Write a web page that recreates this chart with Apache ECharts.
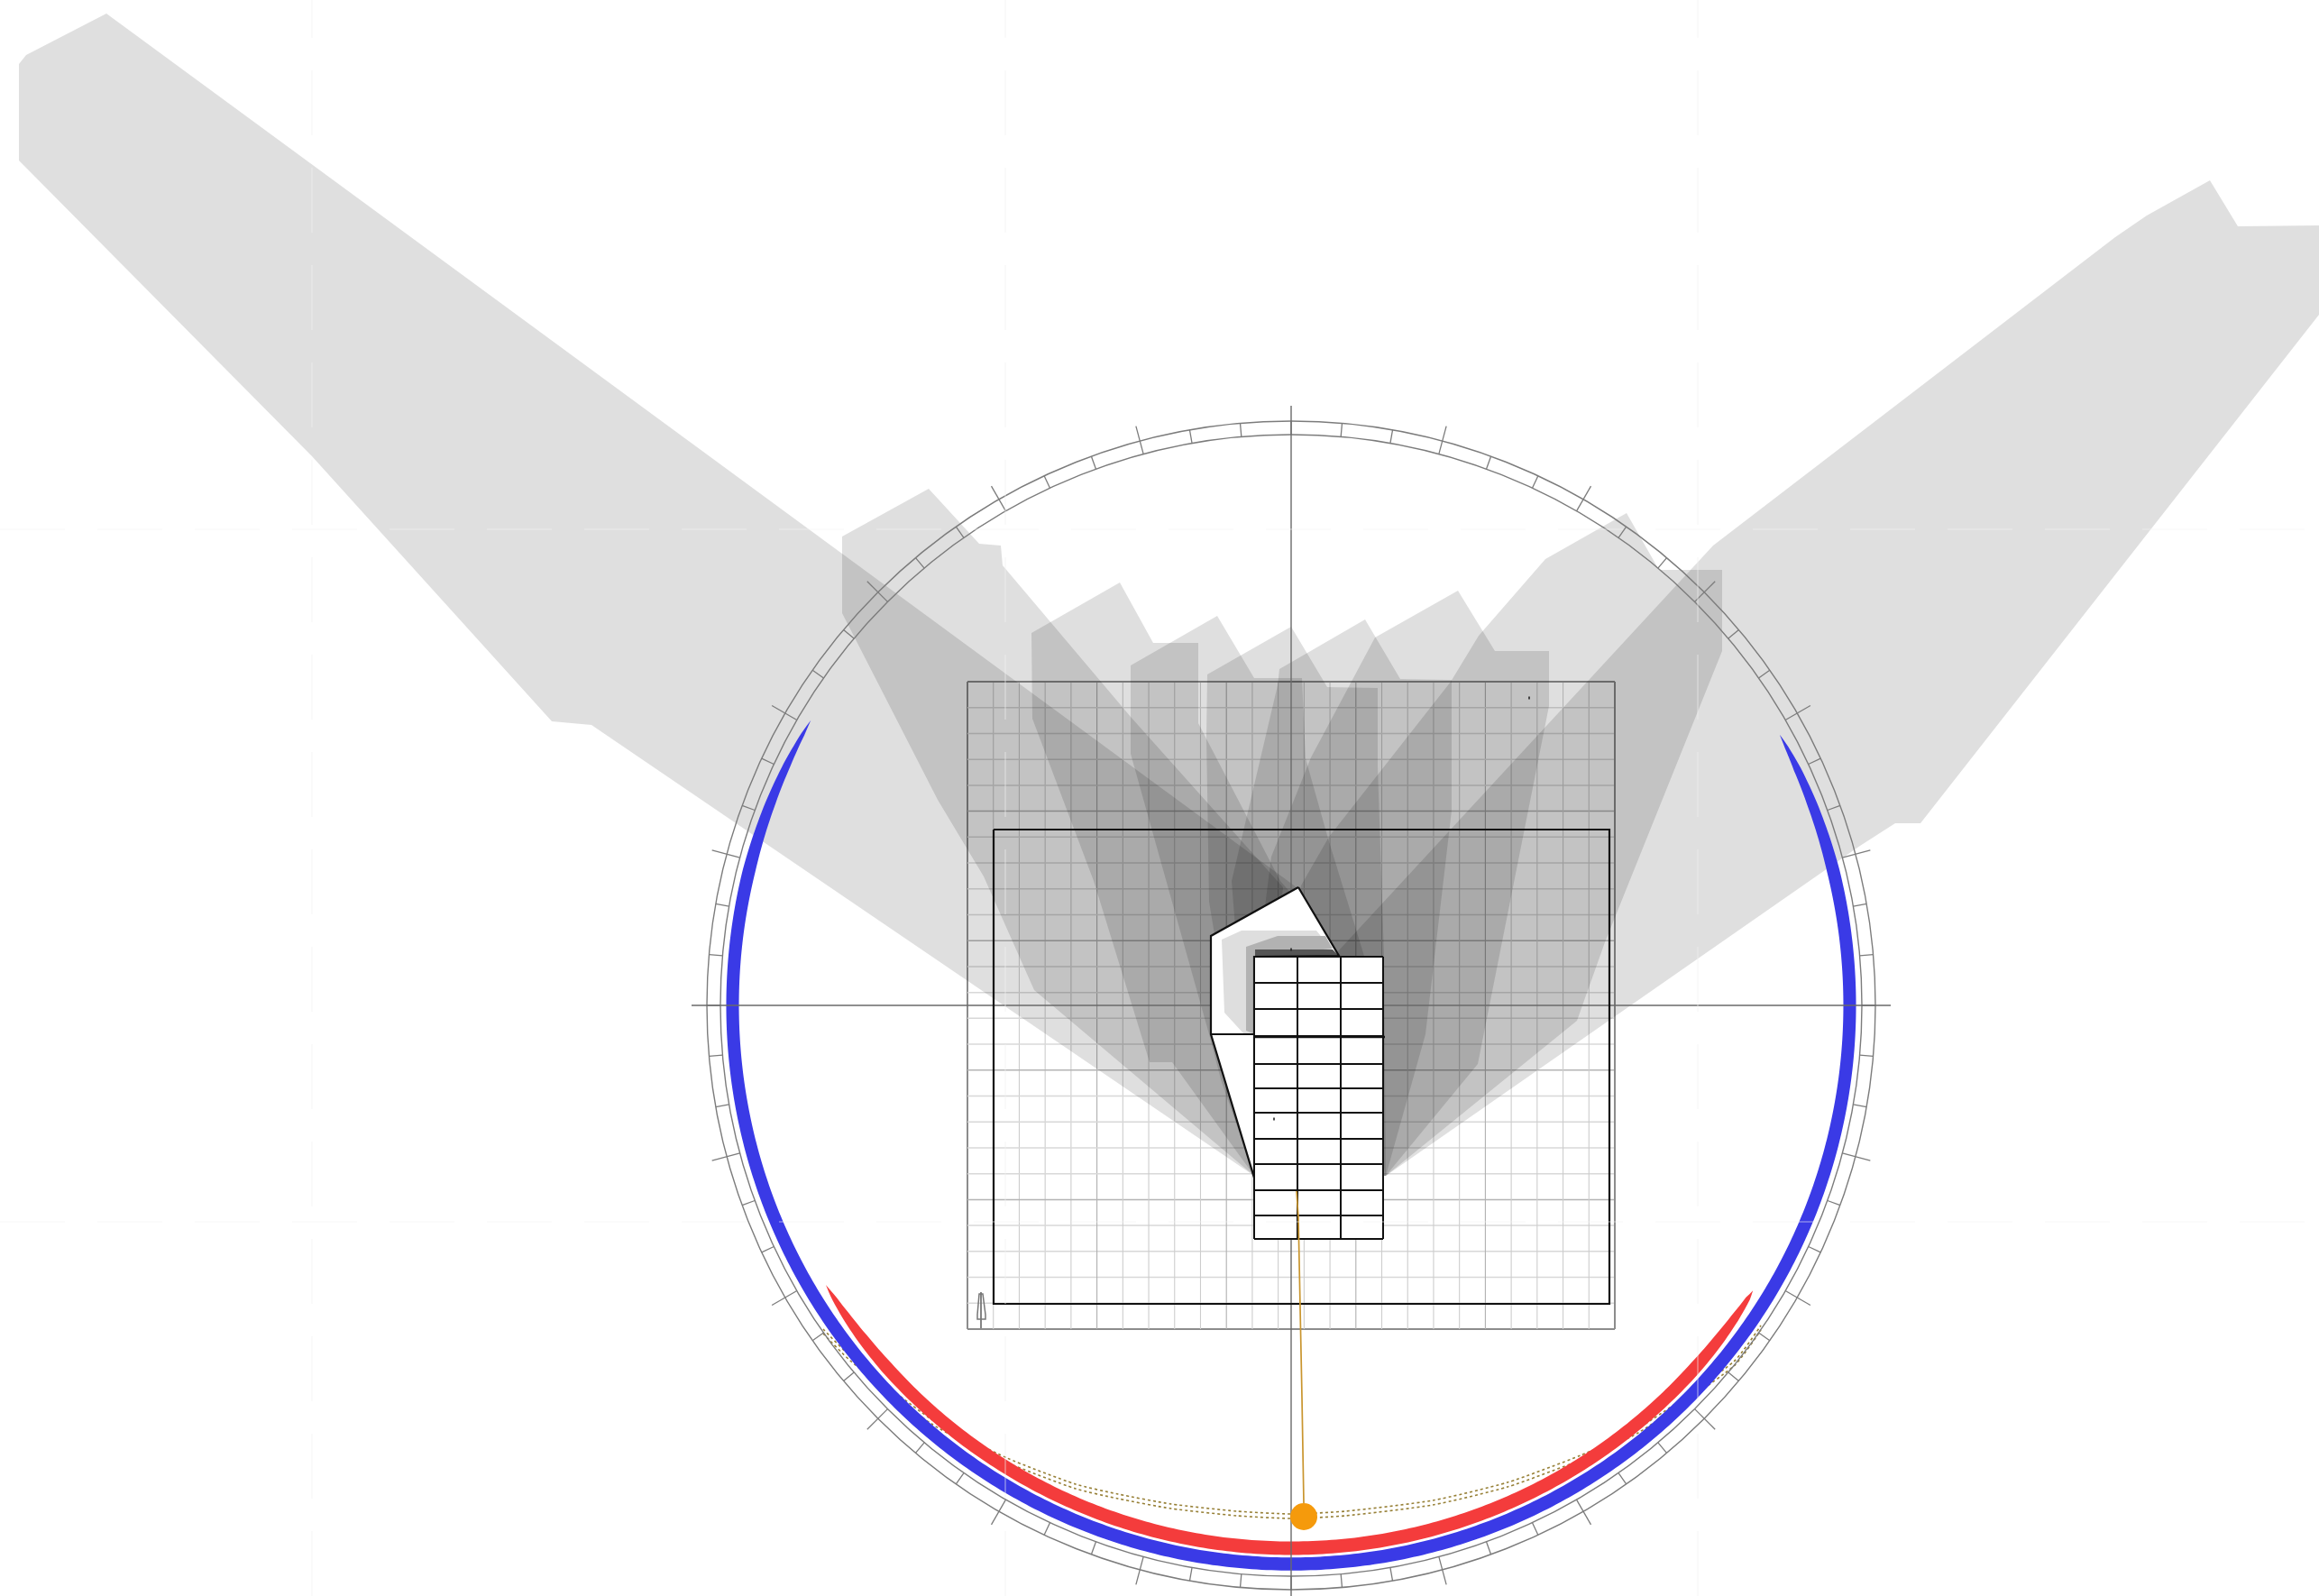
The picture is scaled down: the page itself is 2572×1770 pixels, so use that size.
<!DOCTYPE html>
<html><head><meta charset="utf-8">
<style>html,body{margin:0;padding:0;background:#fff}#c{width:2572px;height:1770px}</style>
<script src="https://cdn.jsdelivr.net/npm/echarts@6/dist/echarts.min.js"></script>
</head><body><div id="c"></div>
<script>
// plan units, origin at the sun-diagram centre, x east, y north
const planX = [-1432, 1140];
const planY = [-655, 1115];

// shadow outlines, one per hour
const shadow1 = [[-1314,1100],[-1403,1054],[-1411,1044],[-1411,937],[-1086,609],[-820,315],[-776,311],[-41,-189],[6,131]];
const shadow2 = [[-498,520],[-402,573],[-346,512],[-322,510],[-320,488],[-178,320],[-9,131],[-41,-189],[-285,17],[-341,143],[-392,228],[-498,435]];
const shadow3 = [[-288,413],[-190,469],[-153,402],[-103,402],[-103,313],[-12,138],[8,115],[-41,-189],[-132,-63],[-157,-63],[-219,138],[-287,318]];
const shadow4 = [[-178,377],[-82,432],[-41,363],[12,363],[16,274],[41,185],[81,55],[80,-100],[-41,-189],[-78,-82],[-91,-32],[-178,279]];
const shadow5 = [[-93,367],[0,420],[40,353],[96,352],[96,265],[103,55],[105,-189],[-41,-189],[-91,115],[-94,298]];
const shadow6 = [[-13,373],[82,428],[121,362],[178,361],[178,216],[149,-32],[105,-189],[-41,-189],[-66,138],[-15,355]];
const shadow7 = [[93,408],[185,460],[226,393],[286,393],[286,332],[207,-65],[105,-189],[-41,-189],[-41,15],[-22,165],[22,275]];
const shadow8 = [[372,546],[282,495],[208,410],[177,359],[42,187],[11,133],[-41,-189],[105,-189],[317,-17],[348,70],[478,393],[478,483],[408,483]];
const shadow9 = [[1019,915],[1050,864],[1140,865],[1140,766],[698,202],[670,202],[631,177],[105,-189],[52,60],[468,510],[914,852],[949,876]];
const shadows = [shadow1,shadow2,shadow3,shadow4,shadow5,shadow6,shadow7,shadow8,shadow9];

// building
const roofOutline = [[8,131],[-89,77],[-89,-32],[-41,-191],[-41,54],[53,55]];
const roofShadeLight = [[-77,73],[-55,83],[28,83],[45,62],[-40,55],[-40,-32],[-52,-32],[-74,-8]];
const roofShadeMid = [[-50,65],[-15,77],[38,77],[46,63],[-40,55],[-40,-32],[-50,-28]];
const roofShadeDark = [[-40,62],[46,62],[53,55],[-40,54]];
const towerColumns = [-41,7,55,102];
const towerRows = [54,25,-4,-34,-65,-92,-119,-148,-176,-205,-233,-259];
const plotBox = [[-330,195],[353,195],[353,-331],[-330,-331],[-330,195]];
const floorStep = [[-89,-32],[-41,-32]];
const towerJoint = [[-41,-35],[104,-35]];

// site grid
const gridHalf = 359;
const gridCells = 25;
const gridMajorEvery = 5;

// sky dome ring
const ringOuter = 648;
const ringInner = 633;
const ringTickLong = 665;
const ringStepDeg = 5;
const ringMajorDeg = 15;

// solar arcs: bearing from north (deg) and band width
const blueRadius = 619.5;
const blueBearing = [61,62.5,65,69,76,180,284,291,295.5,299,300.7];
const blueWidth   = [0,4,8,11,14,14.5,14,11,8,4,0];
const redRadius = 602;
const redBearing = [121.7,122.7,125,128,132,180,228,232,235,237.5,239];
const redWidth   = [0,5,9,12,14,15,14,12,9,5,0];

// sun and its track
const sunPos = [14,-567];
const sunRay = [[6,-206],[8,-235],[10,-335],[12,-435],[14,-552]];
const sunPathUpper = [[-519,-359],[-489,-389],[-399,-459],[-315,-502],[-239,-531],[-192,-542],[-133,-553],[-60,-561],[0,-564],[60,-561],[157,-549],[240,-529],[321,-499],[385,-469],[491,-395],[521,-355]];
const sunPathLower = [[-519,-364],[-489,-394],[-399,-464],[-315,-507],[-239,-536],[-192,-547],[-133,-558],[-60,-566],[0,-569],[60,-566],[157,-554],[240,-534],[321,-504],[385,-474],[491,-400],[521,-360]];

const northArrowStem = [[-344,-318],[-344,-358]];
const northArrowLeaf = [[-348,-343],[-346,-320],[-342,-320],[-339,-343],[-339,-348],[-348,-348],[-348,-343]];
const specks = [[264,341],[-19,-126],[0,62]];
const seamX = [-1086,-317,451];
const seamY = [528,-240];

const chart = echarts.init(document.getElementById('c'), null, {renderer:'canvas', width:2572, height:1770});
const rad = d => d*Math.PI/180;
const polar = (b,r) => [r*Math.sin(rad(b)), r*Math.cos(rad(b))];

function shapesSeries(items, z){
  return {type:'custom', coordinateSystem:'cartesian2d', silent:true, z, clip:true, animation:false,
    data: items.map((_,i)=>[i]),
    encode:{x:-1,y:-1},
    renderItem(params, api){
      const it = items[params.dataIndex];
      if(it.circle){
        const c = api.coord(it.circle);
        const r = Math.abs(api.size([it.r,0])[0]);
        return {type:'circle', shape:{cx:c[0],cy:c[1],r}, style:it.style};
      }
      return {type: it.closed?'polygon':'polyline',
        shape:{points: it.pts.map(p=>api.coord(p)), smooth: it.smooth||0}, style:it.style};
    }};
}
const line = (pts,stroke,lineWidth,extra) => ({pts, closed:false, style:Object.assign({stroke,lineWidth,fill:null},extra||{})});
const fillP = (pts,fill,extra) => ({pts, closed:true, style:Object.assign({fill},extra||{})});

// site grid lines
const gridItems = [];
const cell = 2*gridHalf/gridCells;
for(let i=0;i<=gridCells;i++){
  const v = -gridHalf+i*cell;
  const edge = i===0||i===gridCells;
  const major = i%gridMajorEvery===0;
  gridItems.push(line([[v,-gridHalf],[v,gridHalf]],edge?'#8c8c8c':(major?'#b0b0b0':'#cdcdcd'),edge?2:1.1));
  gridItems.push(line([[-gridHalf,v],[gridHalf,v]],edge?'#8c8c8c':(major?'#b4b4b4':'#d8d8d8'),edge?2:1.5));
}

// tapered solar bands
function band(bearings,widths,R,fill){
  const interp = b => {
    for(let i=0;i<bearings.length-1;i++){
      if(b<=bearings[i+1]){
        const t=(b-bearings[i])/(bearings[i+1]-bearings[i]);
        return widths[i]+t*(widths[i+1]-widths[i]);
      }
    }
    return widths[widths.length-1];
  };
  const outer=[],inner=[];
  const a=bearings[0],e=bearings[bearings.length-1];
  for(let b=a;b<e;b+=0.5){const w=interp(b);outer.push(polar(b,R+w/2));inner.unshift(polar(b,R-w/2));}
  outer.push(polar(e,R));
  return fillP(outer.concat(inner),fill);
}

// ring
const ringItems = [
  {circle:[0,0],r:ringOuter,style:{fill:null,stroke:'#7c7c7c',lineWidth:1.4}},
  {circle:[0,0],r:ringInner,style:{fill:null,stroke:'#7c7c7c',lineWidth:1.4}}
];
for(let b=0;b<360;b+=ringStepDeg){
  const major = b%ringMajorDeg===0 && b%90!==0;
  ringItems.push(line([polar(b,ringInner),polar(b,major?ringTickLong:ringOuter)],'#7c7c7c',1.3));
}

const dotStyle = {lineDash:[3,3]};
const series = [
  shapesSeries(gridItems,1),
  shapesSeries(shadows.map(s=>fillP(s,'rgba(0,0,0,0.125)')),2),
  shapesSeries([
    Object.assign(line(sunPathUpper,'#978037',1.6,dotStyle),{smooth:0.2}),
    Object.assign(line(sunPathLower,'#978037',1.6,dotStyle),{smooth:0.2})
  ],3),
  shapesSeries([band(blueBearing,blueWidth,blueRadius,'#3a3ae6'),band(redBearing,redWidth,redRadius,'#f43c3c')],4),
  shapesSeries(ringItems,5),
  shapesSeries([
    line([[0,ringTickLong],[0,-ringTickLong]],'#6a6a6a',1.4),
    line([[-ringTickLong,0],[ringTickLong,0]],'#6a6a6a',1.4),
    line(plotBox,'#111',2.2),
    line(northArrowStem,'#777',1.8),
    line(northArrowLeaf,'#777',1.5)
  ],6),
  shapesSeries([
    fillP(roofOutline,'#ffffff'),
    fillP(roofShadeLight,'#dedede'),
    fillP(roofShadeMid,'#b2b2b2'),
    fillP(roofShadeDark,'#555555'),
    line(roofOutline.concat([roofOutline[0]]),'#111',2.2),
    line(floorStep,'#111',2.2)
  ],7),
  shapesSeries((function(){
    const x0=towerColumns[0],x1=towerColumns[towerColumns.length-1];
    const y0=towerRows[0],y1=towerRows[towerRows.length-1];
    const out=[fillP([[x0,y0],[x1,y0],[x1,y1],[x0,y1]],'#ffffff')];
    towerColumns.forEach(x=>out.push(line([[x,y0],[x,y1]],'#111',2)));
    towerRows.forEach(y=>out.push(line([[x0,y],[x1,y]],'#111',2)));
    out.push(line(towerJoint,'#111',2.6));
    return out;
  })(),8),
  shapesSeries([line(sunRay,'#c9952e',1.7)],9),
  shapesSeries([{circle:sunPos,r:15,style:{fill:'#f59a0c'}}],10),
  {type:'scatter',coordinateSystem:'cartesian2d',silent:true,z:9,animation:false,symbol:'rect',symbolSize:[2,3],itemStyle:{color:'#222'},data:specks},
  shapesSeries(
    seamX.map(x=>line([[x,planY[0]],[x,planY[1]]],'rgba(240,240,240,0.62)',1.1,{lineDash:[72,36]}))
    .concat(seamY.map(y=>line([[planX[0],y],[planX[1],y]],'rgba(240,240,240,0.62)',1.1,{lineDash:[72,36]}))),11)
];

chart.setOption({
  animation:false,
  backgroundColor:'#ffffff',
  grid:{left:0,right:0,top:0,bottom:0,containLabel:false},
  xAxis:{type:'value',min:planX[0],max:planX[1],show:false},
  yAxis:{type:'value',min:planY[0],max:planY[1],show:false},
  series
});
</script></body></html>
